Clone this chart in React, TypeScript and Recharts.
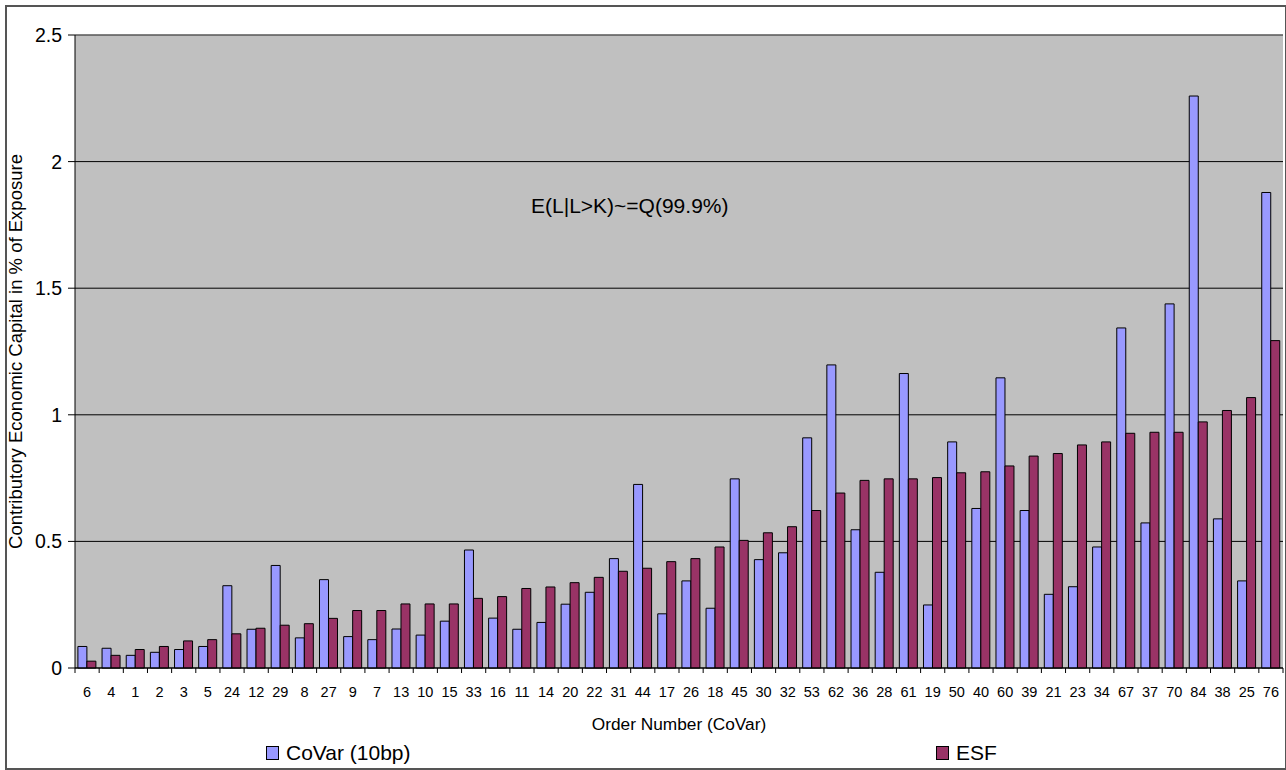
import {
  BarChart,
  Bar,
  XAxis,
  YAxis,
  CartesianGrid,
  Legend,
  ReferenceLine,
} from "recharts";

// Obligors sorted by ESF contribution, labelled by their CoVar order number.
const ORDER_NUMBERS = [
  "6", "4", "1", "2", "3", "5", "24", "12", "29", "8",
  "27", "9", "7", "13", "10", "15", "33", "16", "11", "14",
  "20", "22", "31", "44", "17", "26", "18", "45", "30", "32",
  "53", "62", "36", "28", "61", "19", "50", "40", "60", "39",
  "21", "23", "34", "67", "37", "70", "84", "38", "25", "76",
];

const COVAR_10BP = [
  0.085, 0.078, 0.05, 0.062, 0.073, 0.085, 0.325, 0.153, 0.405, 0.119,
  0.349, 0.124, 0.112, 0.154, 0.13, 0.185, 0.466, 0.197, 0.153, 0.18,
  0.252, 0.299, 0.432, 0.725, 0.214, 0.344, 0.236, 0.747, 0.428, 0.455,
  0.909, 1.197, 0.546, 0.378, 1.163, 0.249, 0.893, 0.63, 1.146, 0.622,
  0.291, 0.321, 0.478, 1.343, 0.573, 1.438, 2.259, 0.589, 0.344, 1.878,
];

const ESF = [
  0.027, 0.05, 0.073, 0.085, 0.107, 0.112, 0.135, 0.157, 0.169, 0.175,
  0.196, 0.227, 0.227, 0.253, 0.253, 0.253, 0.275, 0.282, 0.314, 0.32,
  0.337, 0.358, 0.382, 0.394, 0.42, 0.432, 0.478, 0.504, 0.534, 0.558,
  0.622, 0.691, 0.741, 0.747, 0.747, 0.752, 0.771, 0.775, 0.798, 0.837,
  0.847, 0.881, 0.893, 0.927, 0.931, 0.931, 0.972, 1.017, 1.068, 1.293,
];

const Y_TICKS = [0, 0.5, 1, 1.5, 2, 2.5];

const WIDTH = 1286;
const HEIGHT = 770;
const MARGIN = { top: 35, right: 3, bottom: 40, left: 15 };
const Y_AXIS_W = 60;
const X_AXIS_H = 62;
const PLOT_W = WIDTH - MARGIN.left - MARGIN.right - Y_AXIS_W;

const COVAR_COLOR = "#9999FF";
const ESF_COLOR = "#993366";
const FONT = "'Liberation Sans', Arial, sans-serif";

const data = ORDER_NUMBERS.map((order, i) => ({
  order,
  covar: COVAR_10BP[i],
  esf: ESF[i],
}));

// Excel-style category axis: tick marks sit between categories, labels in the middle.
function OrderTick(props: any) {
  const { x, y, payload, index } = props;
  const half =
    typeof payload?.offset === "number" && payload.offset > 0
      ? payload.offset
      : PLOT_W / ORDER_NUMBERS.length / 2;
  const last = index === ORDER_NUMBERS.length - 1;
  return (
    <g>
      <line x1={x - half} x2={x - half} y1={y} y2={y + 5} stroke="#000" />
      {last && <line x1={x + half} x2={x + half} y1={y} y2={y + 5} stroke="#000" />}
      <text
        x={x}
        y={y + 29}
        textAnchor="middle"
        fontSize={14.5}
        fontFamily={FONT}
        fill="#000"
      >
        {payload.value}
      </text>
    </g>
  );
}

function LegendBox() {
  const item = (color: string, label: string, left: number) => (
    <div
      style={{
        position: "absolute",
        left,
        top: 0,
        height: 26,
        display: "flex",
        alignItems: "center",
        fontFamily: FONT,
        fontSize: 21,
        color: "#000",
        whiteSpace: "nowrap",
      }}
    >
      <span
        style={{
          display: "inline-block",
          width: 11,
          height: 12,
          background: color,
          border: "1px solid #000",
          marginRight: 7,
        }}
      />
      {label}
    </div>
  );
  return (
    <div style={{ position: "relative", width: WIDTH, height: 26 }}>
      {item(COVAR_COLOR, "CoVar (10bp)", 266)}
      {item(ESF_COLOR, "ESF", 936)}
    </div>
  );
}

export default function App() {
  return (
    <div
      style={{
        position: "absolute",
        left: 0,
        top: 0,
        width: WIDTH,
        height: HEIGHT,
        background: "#fff",
      }}
    >
      <BarChart
        width={WIDTH}
        height={HEIGHT}
        data={data}
        margin={MARGIN}
        barCategoryGap="12%"
        barGap={0}
      >
        <CartesianGrid vertical={false} stroke="#000" fill="#C0C0C0" />
        <ReferenceLine y={2.5} stroke="#808080" />
        <XAxis
          dataKey="order"
          interval={0}
          height={X_AXIS_H}
          tickLine={false}
          tickSize={0}
          tickMargin={0}
          axisLine={{ stroke: "#000" }}
          tick={<OrderTick />}
          label={{
            value: "Order Number (CoVar)",
            position: "insideBottom",
            offset: 0,
            style: { fontSize: 17.3, fontFamily: FONT, fill: "#000" },
          }}
        />
        <YAxis
          width={Y_AXIS_W}
          domain={[0, 2.5]}
          ticks={Y_TICKS}
          interval={0}
          tickSize={7}
          tickMargin={6}
          axisLine={{ stroke: "#000" }}
          tickLine={{ stroke: "#000" }}
          tick={{ fontSize: 19.5, fontFamily: FONT, fill: "#000" }}
          label={{
            value: "Contributory Economic Capital in % of Exposure",
            angle: -90,
            position: "insideLeft",
            offset: 0,
            style: {
              textAnchor: "middle",
              fontSize: 18.5,
              fontFamily: FONT,
              fill: "#000",
            },
          }}
        />
        <Legend
          layout="horizontal"
          verticalAlign="middle"
          align="center"
          wrapperStyle={{ top: 740, left: 0, width: WIDTH }}
          content={<LegendBox />}
        />
        <Bar
          dataKey="covar"
          name="CoVar (10bp)"
          fill={COVAR_COLOR}
          stroke="#000"
          strokeWidth={1}
          isAnimationActive={false}
        />
        <Bar
          dataKey="esf"
          name="ESF"
          fill={ESF_COLOR}
          stroke="#000"
          strokeWidth={1}
          isAnimationActive={false}
        />
      </BarChart>
      <div
        style={{
          position: "absolute",
          left: 531,
          top: 194,
          lineHeight: "24px",
          fontFamily: FONT,
          fontSize: 21,
          color: "#000",
          whiteSpace: "nowrap",
        }}
      >
        E(L|L&gt;K)~=Q(99.9%)
      </div>
      <div
        style={{
          position: "absolute",
          left: 5,
          top: 5,
          width: 1278,
          height: 761,
          border: "2px solid #555",
          pointerEvents: "none",
        }}
      />
    </div>
  );
}
